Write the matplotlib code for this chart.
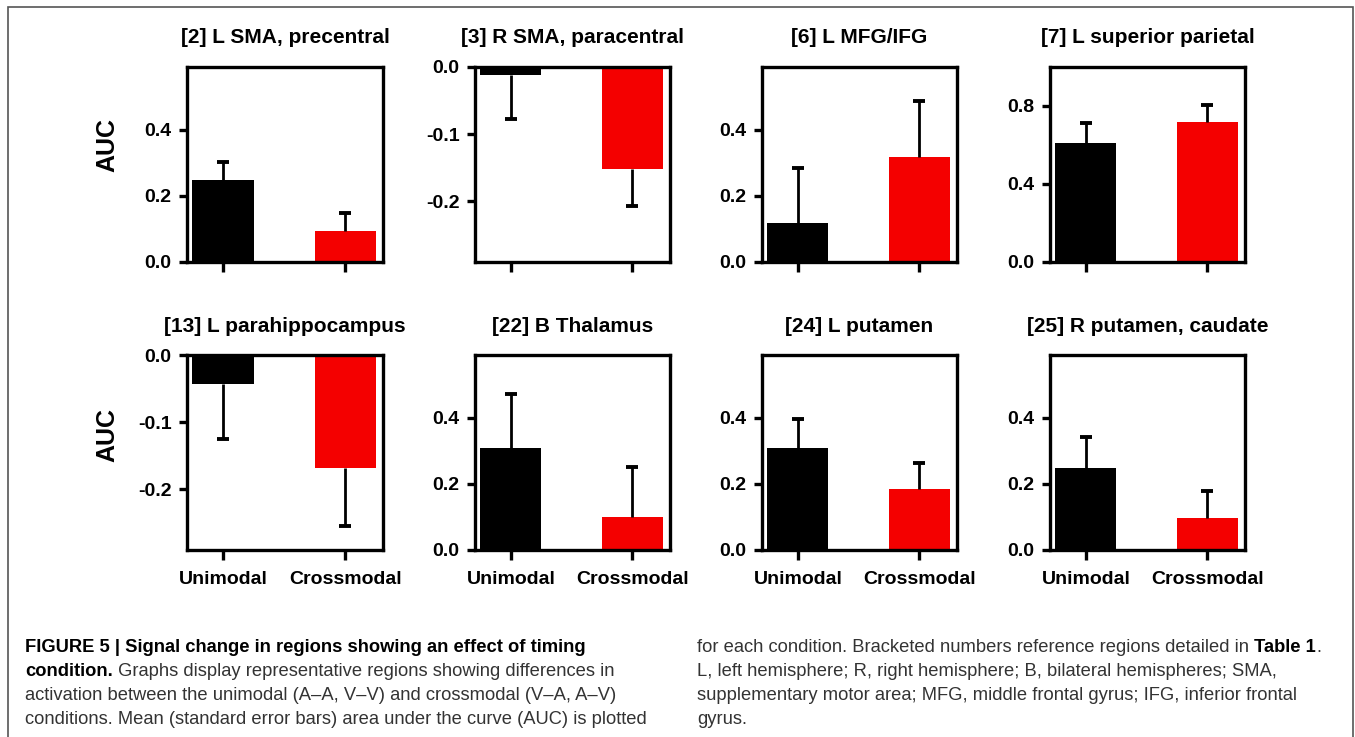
import matplotlib
matplotlib.use("Agg")
import matplotlib.pyplot as plt
from matplotlib.patches import Rectangle

plt.rcParams['font.family'] = ['Liberation Sans', 'DejaVu Sans']
plt.rcParams['axes.unicode_minus'] = False

W, H = 1355, 737

conditions = ['Unimodal', 'Crossmodal']
titles = ['[2] L SMA, precentral', '[3] R SMA, paracentral', '[6] L MFG/IFG',
          '[7] L superior parietal', '[13] L parahippocampus', '[22] B Thalamus',
          '[24] L putamen', '[25] R putamen, caudate']
unimodal_mean = [0.248, -0.012, 0.118, 0.609, -0.043, 0.309, 0.309, 0.248]
crossmodal_mean = [0.094, -0.151, 0.318, 0.717, -0.168, 0.100, 0.185, 0.097]
unimodal_sem = [0.055, 0.066, 0.167, 0.103, 0.082, 0.164, 0.088, 0.094]
crossmodal_sem = [0.054, 0.056, 0.170, 0.088, 0.087, 0.152, 0.079, 0.082]
y_limits = [(0, 0.59), (-0.29, 0), (0, 0.59), (0, 1.0),
            (-0.29, 0), (0, 0.59), (0, 0.59), (0, 0.59)]
y_ticks = [[0.0, 0.2, 0.4], [0.0, -0.1, -0.2], [0.0, 0.2, 0.4], [0.0, 0.4, 0.8],
           [0.0, -0.1, -0.2], [0.0, 0.2, 0.4], [0.0, 0.2, 0.4], [0.0, 0.2, 0.4]]

caption_left = [
    [('FIGURE 5 | Signal change in regions showing an effect of timing', 'bold')],
    [('condition.', 'bold'), (' Graphs display representative regions showing differences in', 'normal')],
    [('activation between the unimodal (A\u2013A, V\u2013V) and crossmodal (V\u2013A, A\u2013V)', 'normal')],
    [('conditions. Mean (standard error bars) area under the curve (AUC) is plotted', 'normal')],
]
caption_right = [
    [('for each condition. Bracketed numbers reference regions detailed in ', 'normal'),
     ('Table 1', 'bold'), ('.', 'normal')],
    [('L, left hemisphere; R, right hemisphere; B, bilateral hemispheres; SMA,', 'normal')],
    [('supplementary motor area; MFG, middle frontal gyrus; IFG, inferior frontal', 'normal')],
    [('gyrus.', 'normal')],
]

# panel boxes in pixels
cols = [(187, 383), (475, 670), (762, 957), (1050, 1245)]
rows = [(67, 262), (355, 550)]
line_y = [645, 669, 693, 717]

fig = plt.figure(figsize=(W / 100, H / 100), dpi=100)

# frame round the whole figure
fig.patches.append(Rectangle((8 / W, -0.05), (1353 - 8) / W, 1.05 - 7 / H,
                             transform=fig.transFigure, fill=False,
                             edgecolor='#555555', linewidth=1.2))

for i in range(8):
    r, c = divmod(i, 4)
    x0, x1 = cols[c]
    y0, y1 = rows[r]
    ax = fig.add_axes([x0 / W, 1 - y1 / H, (x1 - x0) / W, (y1 - y0) / H])
    means = [unimodal_mean[i], crossmodal_mean[i]]
    sems = [unimodal_sem[i], crossmodal_sem[i]]
    ax.bar([0, 1], means, width=0.5, color=['black', '#f40000'], linewidth=0, zorder=2)
    for x, m, s in zip([0, 1], means, sems):
        err = [[0], [s]] if m >= 0 else [[s], [0]]
        _, caps, _ = ax.errorbar([x], [m], yerr=err, fmt='none', ecolor='black',
                                 elinewidth=2, capsize=4.5, capthick=2.8, zorder=3)
        # one-sided bars: drop the cap sitting on the bar end
        for cap in caps:
            if abs(cap.get_ydata()[0] - m) < 1e-9:
                cap.set_visible(False)
    ax.set_xlim(-0.295, 1.31)
    ax.set_ylim(*y_limits[i])
    ax.set_yticks(y_ticks[i])
    ax.set_yticklabels(['%.1f' % v for v in y_ticks[i]])
    ax.set_xticks([0, 1])
    if r == 1:
        ax.set_xticklabels(conditions)
    else:
        ax.set_xticklabels([])
    for sp in ax.spines.values():
        sp.set_linewidth(2.4)
    ax.tick_params(axis='y', direction='out', length=6, width=2.4, pad=5,
                   labelsize=14)
    ax.tick_params(axis='x', direction='out', length=7, width=2.4, pad=8,
                   labelsize=14)
    for lab in ax.get_xticklabels() + ax.get_yticklabels():
        lab.set_fontweight('bold')
    ax.text(0.5, 1 + 29 / (y1 - y0), titles[i], transform=ax.transAxes,
            ha='center', va='center', fontsize=15, fontweight='bold')

for yc in [145, 435]:
    fig.text(107 / W, 1 - yc / H, 'AUC', rotation=90, ha='center', va='center',
             fontsize=18, fontweight='bold')


def place_parts(lines, x):
    renderer = fig.canvas.get_renderer()
    for parts, y in zip(lines, line_y):
        xpos = x
        for text, weight in parts:
            color = 'black' if weight == 'bold' else '#333333'
            t = fig.text(xpos / W, 1 - y / H, text, ha='left', va='center_baseline',
                         fontsize=13.2, fontweight=weight, color=color)
            xpos = t.get_window_extent(renderer).x1


place_parts(caption_left, 25)
place_parts(caption_right, 697)

fig.savefig('out.png', dpi=100)
